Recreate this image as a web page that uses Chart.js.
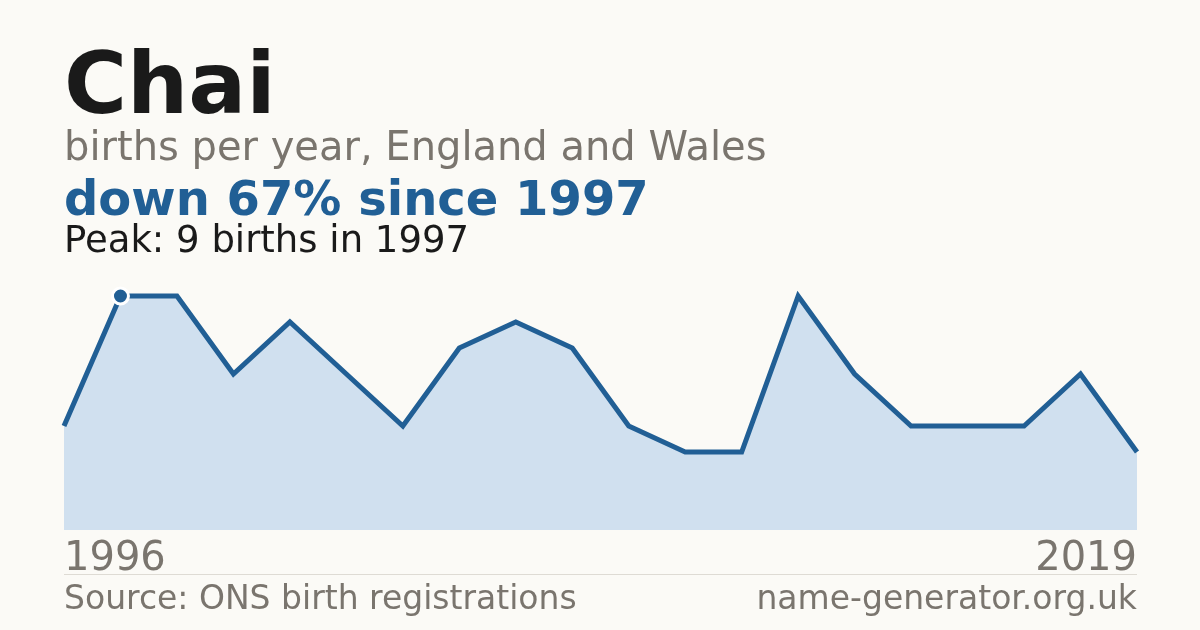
<!DOCTYPE html>
<html>
<head>
<meta charset="utf-8">
<script src="https://cdn.jsdelivr.net/npm/chart.js@4"></script>
<style>
    html, body { margin: 0; padding: 0; }
    body {
        width: 1200px; height: 630px; overflow: hidden; position: relative;
        background: #fbfaf6; font-family: 'DejaVu Sans', sans-serif;
    }
    .t { position: absolute; left: 64px; line-height: 1; white-space: nowrap; }
    #title { top: 40px; font-size: 86px; font-weight: bold; color: #1a1a1a; }
    #sub { top: 126px; font-size: 40px; color: #7a756e; }
    #trend { top: 174px; font-size: 48px; font-weight: bold; color: #215f95; }
    #peak { top: 221px; font-size: 37px; color: #1a1a1a; }
    #rule { position: absolute; left: 64px; top: 574px; width: 1073px; height: 1px; background: #dedbd4; }
    #source { top: 581px; font-size: 33px; color: #7a756e; }
    #site { top: 581px; left: auto; right: 63px; font-size: 33px; color: #7a756e; }
    #wrap { position: absolute; left: 0; top: 0; width: 1200px; height: 630px; }
</style>
</head>
<body>
<div id="wrap"><canvas id="chart"></canvas></div>
<div class="t" id="title">Chai</div>
<div class="t" id="sub">births per year, England and Wales</div>
<div class="t" id="trend">down 67% since 1997</div>
<div class="t" id="peak">Peak: 9 births in 1997</div>
<div id="rule"></div>
<div class="t" id="source">Source: ONS birth registrations</div>
<div class="t" id="site">name-generator.org.uk</div>
<script>
// Years with recorded births (the axis only labels the first and last)
const years = ['1996', '1997', '1998', '1999', '2000', '2001', '2002', '2003', '2005', '2006',
    '2007', '2008', '2010', '2011', '2012', '2014', '2015', '2016', '2017', '2019'];
const births = [4, 9, 9, 6, 8, 6, 4, 7, 8, 7, 4, 3, 3, 9, 6, 4, 4, 4, 6, 3];
const peakIndex = 1;

const lineColor = '#215f95';

new Chart(document.getElementById('chart'), {
    type: 'line',
    data: {
        labels: years,
        datasets: [{
            data: births,
            borderColor: lineColor,
            borderWidth: 5,
            backgroundColor: '#d0e0ef',
            fill: 'origin',
            tension: 0,
            clip: false,
            pointRadius: births.map((v, i) => i === peakIndex ? 8 : 0),
            pointBackgroundColor: lineColor,
            pointBorderColor: '#ffffff',
            pointBorderWidth: 3,
        }],
    },
    options: {
        responsive: true,
        maintainAspectRatio: false,
        animation: false,
        events: [],
        layout: { padding: { left: 64, right: 63, top: 296, bottom: 48 } },
        plugins: { legend: { display: false }, tooltip: { enabled: false } },
        scales: {
            y: { display: false, min: 0, max: 9 },
            x: {
                offset: false,
                grid: { display: false },
                border: { display: false },
                ticks: {
                    autoSkip: false,
                    maxRotation: 0,
                    align: 'inner',
                    padding: -2,
                    color: '#7a756e',
                    font: { family: "'DejaVu Sans', sans-serif", size: 40 },
                    callback(value, index) {
                        return (index === 0 || index === years.length - 1) ? years[index] : '';
                    },
                },
            },
        },
    },
});
</script>
</body>
</html>
